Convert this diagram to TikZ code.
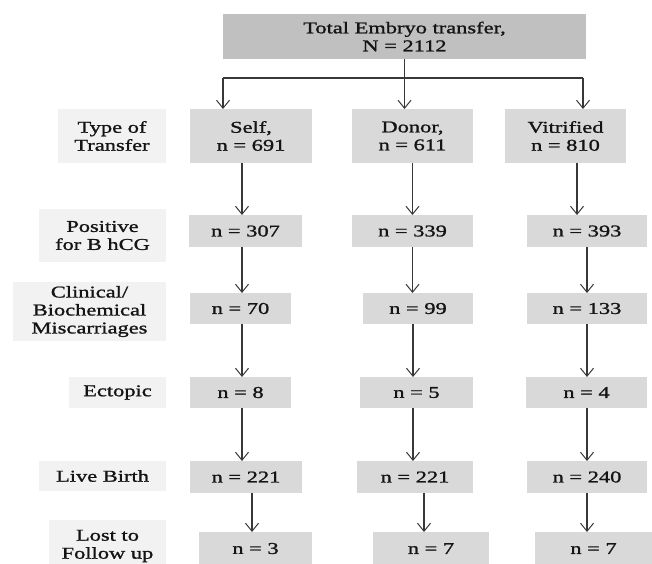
\documentclass[tikz,border=0pt]{standalone}
\usepackage{fontspec}
\setmainfont[FakeStretch=1.36,FakeBold=1.2]{Liberation Serif}
\usetikzlibrary{arrows.meta}
\definecolor{topfill}{HTML}{C0C0C0}
\definecolor{datafill}{HTML}{D9D9D9}
\definecolor{labfill}{HTML}{F2F2F2}
\definecolor{ink}{HTML}{141414}
\definecolor{linec}{HTML}{383838}
\begin{document}
\begin{tikzpicture}[x=1pt,y=-1pt,
 box/.style={inner sep=0pt, outer sep=0pt, align=center, text=ink, font=\fontsize{16.5}{18}\selectfont},
 topbox/.style={box, fill=topfill},
 databox/.style={box, fill=datafill},
 labbox/.style={box, fill=labfill},
 arr/.style={draw=linec, line width=1.2pt, -{Straight Barb[length=8pt,width=13pt,line width=1pt]}},
 conn/.style={draw=linec, line width=1.2pt}]
\useasboundingbox[fill=white] (0,0) rectangle (652,563);
% top
\node[topbox, minimum width=363pt, minimum height=45pt] (top) at (404.5,36.5) {Total Embryo transfer,\\N = 2112};
% row 1
\node[labbox, minimum width=108pt, minimum height=54pt] (L1) at (112,136) {Type of\\Transfer};
\node[databox, minimum width=122pt, minimum height=54pt] (S1) at (251,136) {Self,\\n = 691};
\node[databox, minimum width=121pt, minimum height=54pt] (D1) at (412.5,136) {Donor,\\n = 611};
\node[databox, minimum width=121pt, minimum height=54pt] (V1) at (565.5,136) {Vitrified\\n = 810};
% row 2
\node[labbox, minimum width=127pt, minimum height=53pt] (L2) at (102.5,235.5) {Positive\\for B hCG};
\node[databox, minimum width=113pt, minimum height=32pt] (S2) at (245.5,231) {n = 307};
\node[databox, minimum width=121pt, minimum height=32pt] (D2) at (412.5,231) {n = 339};
\node[databox, minimum width=120pt, minimum height=32pt] (V2) at (587,231) {n = 393};
% row 3
\node[labbox, minimum width=153pt, minimum height=59pt] (L3) at (89.5,311.5) {Clinical/\\Biochemical\\Miscarriages};
\node[databox, minimum width=101pt, minimum height=31pt] (S3) at (240.5,308.5) {n = 70};
\node[databox, minimum width=110pt, minimum height=31pt] (D3) at (418,308.5) {n = 99};
\node[databox, minimum width=120pt, minimum height=31pt] (V3) at (587,308.5) {n = 133};
% row 4
\node[labbox, minimum width=97pt, minimum height=31pt] (L4) at (117.5,392.5) {Ectopic};
\node[databox, minimum width=101pt, minimum height=31pt] (S4) at (240.5,392.5) {n = 8};
\node[databox, minimum width=113pt, minimum height=31pt] (D4) at (416.5,392.5) {n = 5};
\node[databox, minimum width=121pt, minimum height=31pt] (V4) at (586.5,392.5) {n = 4};
% row 5
\node[labbox, minimum width=127pt, minimum height=30pt] (L5) at (102.5,476) {Live Birth};
\node[databox, minimum width=112pt, minimum height=32pt] (S5) at (246,477) {n = 221};
\node[databox, minimum width=116pt, minimum height=32pt] (D5) at (415,477) {n = 221};
\node[databox, minimum width=120pt, minimum height=32pt] (V5) at (587,477) {n = 240};
% row 6
\node[labbox, minimum width=117pt, minimum height=52pt] (L6) at (107.5,546) {Lost to\\Follow up};
\node[databox, minimum width=113pt, minimum height=33pt] (S6) at (255.5,548.5) {n = 3};
\node[databox, minimum width=116pt, minimum height=33pt] (D6) at (431,548.5) {n = 7};
\node[databox, minimum width=117pt, minimum height=33pt] (V6) at (593.5,548.5) {n = 7};
% top connectors
\coordinate (jl) at (223,78);
\coordinate (jr) at (583,78);
\draw[conn] (jl) -- (jr);
\draw[arr] (top.south) -- (top.south |- D1.north);
\draw[arr] (jl) -- (jl |- S1.north);
\draw[arr] (jr) -- (jr |- V1.north);
% self column
\draw[arr] ([xshift=-9pt]S1.south) -- ([xshift=-9pt]S1.south |- S2.north);
\draw[arr] ([xshift=-3.5pt]S2.south) -- ([xshift=-3.5pt]S2.south |- S3.north);
\draw[arr] ([xshift=1.5pt]S3.south) -- ([xshift=1.5pt]S3.south |- S4.north);
\draw[arr] ([xshift=1.5pt]S4.south) -- ([xshift=1.5pt]S4.south |- S5.north);
\draw[arr] ([xshift=6pt]S5.south) -- ([xshift=6pt]S5.south |- S6.north);
% donor column
\draw[arr] (D1.south) -- (D1.south |- D2.north);
\draw[arr] (D2.south) -- (D2.south |- D3.north);
\draw[arr] ([xshift=-5pt]D3.south) -- ([xshift=-5pt]D3.south |- D4.north);
\draw[arr] ([xshift=-3.5pt]D4.south) -- ([xshift=-3.5pt]D4.south |- D5.north);
\draw[arr] ([xshift=9pt]D5.south) -- ([xshift=9pt]D5.south |- D6.north);
% vitrified column
\draw[arr] ([xshift=11.5pt]V1.south) -- ([xshift=11.5pt]V1.south |- V2.north);
\draw[arr] (V2.south) -- (V2.south |- V3.north);
\draw[arr] (V3.south) -- (V3.south |- V4.north);
\draw[arr] ([xshift=0.5pt]V4.south) -- ([xshift=0.5pt]V4.south |- V5.north);
\draw[arr] (V5.south) -- (V5.south |- V6.north);
\end{tikzpicture}
\end{document}
